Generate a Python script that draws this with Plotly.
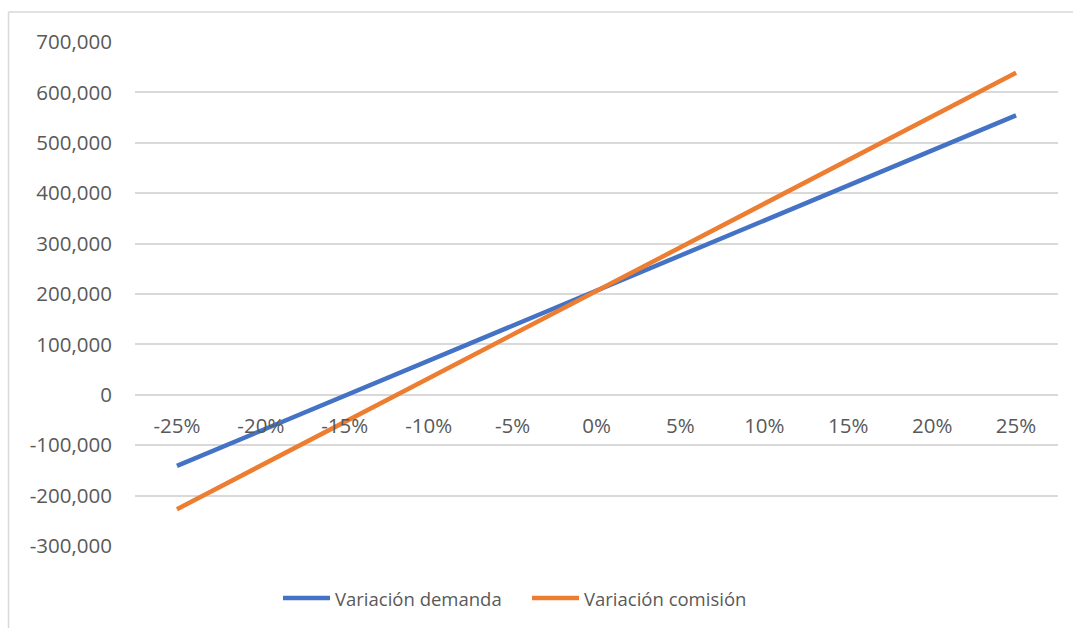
import plotly.graph_objects as go

# Sensitivity of result to percentage change in each driver
variaciones = ["-25%", "-20%", "-15%", "-10%", "-5%", "0%", "5%", "10%", "15%", "20%", "25%"]
variacion_demanda = [-141000, -71500, -2000, 68000, 137500, 207000,
                     276500, 346000, 415500, 485000, 554500]
variacion_comision = [-227000, -140400, -53800, 32800, 119400, 206000,
                      292600, 379200, 465800, 552400, 639000]

series = [
    ("Variación demanda", variacion_demanda, "#4472C4"),
    ("Variación comisión", variacion_comision, "#ED7D31"),
]

y_ticks = [-300000, -200000, -100000, 0, 100000, 200000, 300000, 400000, 500000, 600000, 700000]
y_labels = [f"{v:,}" for v in y_ticks]

W, H = 1073, 628
ML, MR, MT, MB = 135, 15, 42, 82
y_min, y_max = -300000, 700000
pw, ph = W - ML - MR, H - MT - MB

fig = go.Figure()
for name, values, color in series:
    fig.add_trace(go.Scatter(
        x=list(range(len(variaciones))), y=values, mode="lines",
        name=name, line=dict(color=color, width=4.5), showlegend=False,
    ))

# category axis crosses the value axis at zero
zero_pos = (0 - y_min) / (y_max - y_min)

family = "Open Sans, DejaVu Sans, sans-serif"
font = dict(family=family, size=20.5, color="#595959")

fig.update_layout(
    width=W, height=H,
    margin=dict(l=ML, r=MR, t=MT, b=MB),
    paper_bgcolor="white", plot_bgcolor="white",
    font=font,
    xaxis=dict(
        range=[-0.5, len(variaciones) - 0.5],
        tickmode="array", tickvals=list(range(len(variaciones))), ticktext=variaciones,
        showgrid=False, zeroline=False, showline=False, ticks="",
        anchor="free", position=zero_pos, ticklabelstandoff=17,
        tickfont=font,
    ),
    yaxis=dict(
        range=[y_min, y_max],
        tickmode="array", tickvals=y_ticks, ticktext=y_labels,
        showgrid=True, gridcolor="#D9D9D9", gridwidth=1.5,
        zeroline=False, showline=False, ticks="",
        ticklabelstandoff=22, tickfont=font,
    ),
)

# legend drawn below the plot: a line key and a label per series
def px_x(px):
    return (px - ML) / pw

def px_y(py):
    return (H - MB - py) / ph

legend_y = px_y(598)
legend_starts = [283, 532]
for (name, _, color), x0 in zip(series, legend_starts):
    fig.add_shape(type="line", xref="paper", yref="paper",
                  x0=px_x(x0), x1=px_x(x0 + 47), y0=legend_y, y1=legend_y,
                  line=dict(color=color, width=4.5))
    fig.add_annotation(xref="paper", yref="paper", x=px_x(x0 + 50), y=legend_y,
                       text=name, showarrow=False, xanchor="left", yanchor="middle",
                       font=dict(family=family, size=18.5, color="#595959"))

# outer chart-area border (top and left edges)
bx0 = px_x(8.5)
by_top = px_y(12)
fig.add_shape(type="line", xref="paper", yref="paper",
              x0=bx0, x1=px_x(W + 5), y0=by_top, y1=by_top,
              line=dict(color="#D9D9D9", width=1.5))
fig.add_shape(type="line", xref="paper", yref="paper",
              x0=bx0, x1=bx0, y0=by_top, y1=px_y(H + 5),
              line=dict(color="#D9D9D9", width=1.5))

fig.write_html("out.html")
